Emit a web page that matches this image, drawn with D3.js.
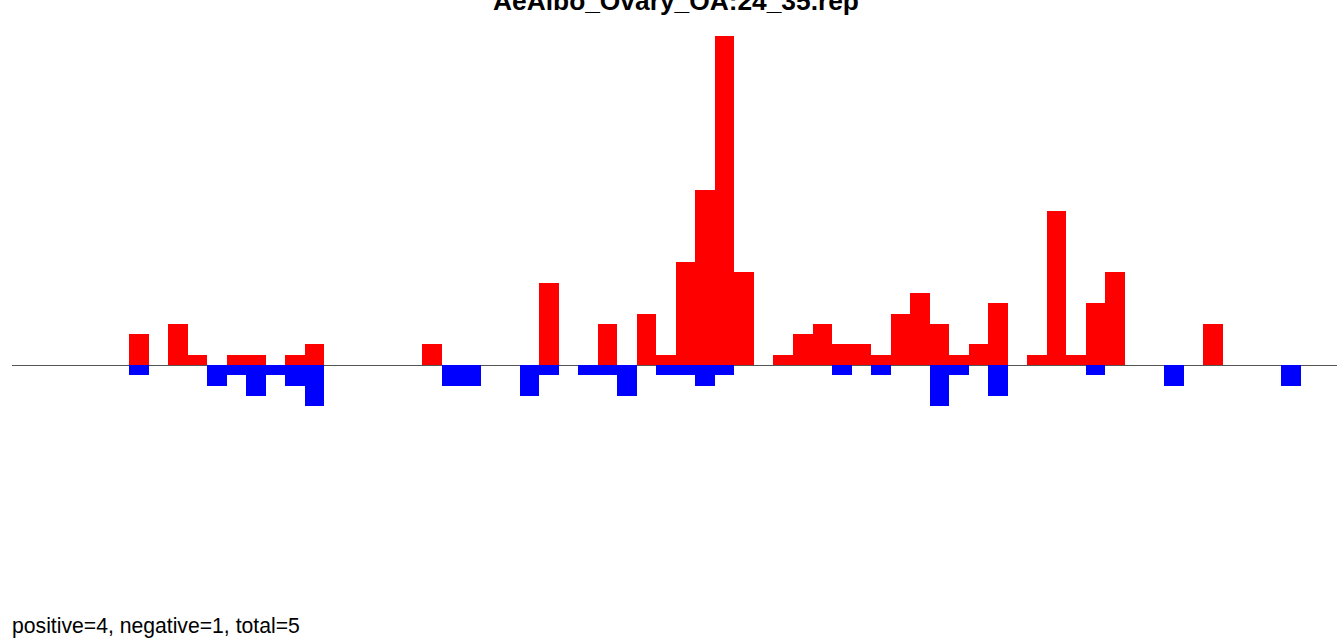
<!DOCTYPE html>
<html>
<head>
<meta charset="utf-8">
<script src="https://cdn.jsdelivr.net/npm/d3@7"></script>
<style>
  html, body { margin: 0; padding: 0; background: #fff; }
  svg { display: block; }
</style>
</head>
<body>
<svg id="chart" width="1337" height="639"></svg>
<script>
const titleText = "AeAlbo_Ovary_OA:24_35.rep";
const footerText = "positive=4, negative=1, total=5";
// bin index 0..67
const bins = d3.range(68);
const positive = [
  0,0,0,0,0,0,3,0,4,1, 0,1,1,0,1,2,0,0,0,0,
  0,2,0,0,0,0,0,8,0,0, 4,0,5,1,10,17,32,9,0,1,
  3,4,2,2,1,5,7,4,1,2, 6,0,1,15,1,6,9,0,0,0,
  0,4,0,0,0,0,0,0
];
const negative = [
  0,0,0,0,0,0,-1,0,0,0, -2,-1,-3,-1,-2,-4,0,0,0,0,
  0,0,-2,-2,0,0,-3,-1,0,-1, -1,-3,0,-1,-1,-2,-1,0,0,0,
  0,0,-1,0,-1,0,0,-4,-1,0, -3,0,0,0,0,-1,0,0,0,-2,
  0,0,0,0,0,-2,0,0
];

const svg = d3.select("#chart");
const x = d3.scaleLinear().domain([0, 68]).range([12, 12 + 68 * 19.525]);
const y = d3.scaleLinear().domain([0, 32]).range([365, 36]);

svg.append("line")
  .attr("x1", 12).attr("x2", 1337)
  .attr("y1", y(0) + 0.5).attr("y2", y(0) + 0.5)
  .attr("stroke", "#555").attr("stroke-width", 1.5)
  .attr("shape-rendering", "crispEdges");

svg.append("g").selectAll("rect")
  .data(bins.filter(i => positive[i] > 0))
  .join("rect")
  .attr("x", i => x(i))
  .attr("width", i => x(i + 1) - x(i))
  .attr("y", i => y(positive[i]))
  .attr("height", i => y(0) - y(positive[i]))
  .attr("fill", "#ff0000")
  .attr("shape-rendering", "crispEdges");

svg.append("g").selectAll("rect")
  .data(bins.filter(i => negative[i] < 0))
  .join("rect")
  .attr("x", i => x(i))
  .attr("width", i => x(i + 1) - x(i))
  .attr("y", y(0))
  .attr("height", i => y(negative[i]) - y(0))
  .attr("fill", "#0000ff")
  .attr("shape-rendering", "crispEdges");

const title = svg.append("text")
  .attr("x", 676).attr("y", 10)
  .attr("text-anchor", "middle")
  .attr("font-family", "Liberation Sans, Arial, sans-serif")
  .attr("font-weight", "bold")
  .attr("font-size", 26)
  .attr("fill", "#000")
  .text(titleText);
const tw = title.node().getComputedTextLength();
title.attr("font-size", 26 * 366 / tw);

const footer = svg.append("text")
  .attr("x", 12).attr("y", 633)
  .attr("font-family", "Liberation Sans, Arial, sans-serif")
  .attr("font-size", 21)
  .attr("fill", "#000")
  .text(footerText);
const fw = footer.node().getComputedTextLength();
footer.attr("font-size", 21 * 288 / fw);
</script>
</body>
</html>
